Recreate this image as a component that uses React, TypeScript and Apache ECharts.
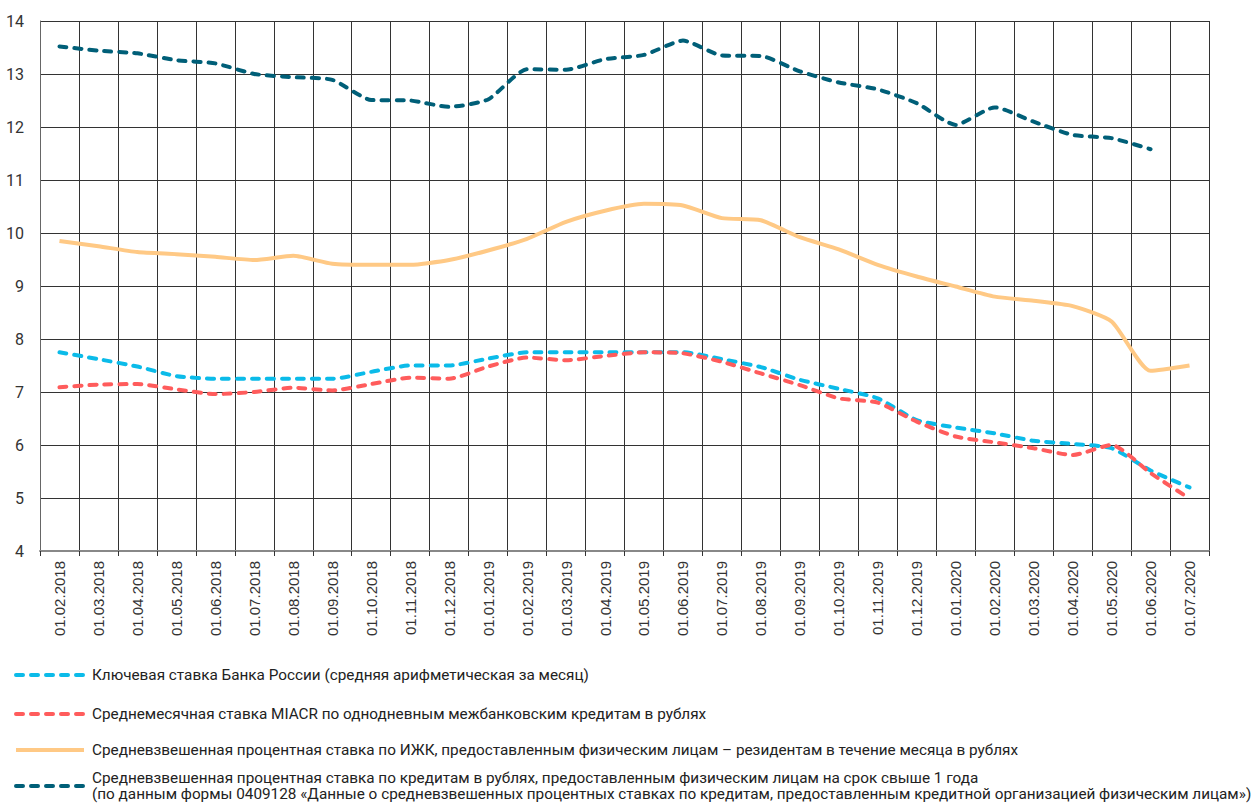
import React, { useEffect, useRef } from "react";
import * as echarts from "echarts";

const categories = [
  "01.02.2018", "01.03.2018", "01.04.2018", "01.05.2018", "01.06.2018", "01.07.2018",
  "01.08.2018", "01.09.2018", "01.10.2018", "01.11.2018", "01.12.2018", "01.01.2019",
  "01.02.2019", "01.03.2019", "01.04.2019", "01.05.2019", "01.06.2019", "01.07.2019",
  "01.08.2019", "01.09.2019", "01.10.2019", "01.11.2019", "01.12.2019", "01.01.2020",
  "01.02.2020", "01.03.2020", "01.04.2020", "01.05.2020", "01.06.2020", "01.07.2020",
];

const keyRate = [
  7.75, 7.62, 7.48, 7.3, 7.25, 7.25, 7.25, 7.25, 7.38, 7.5, 7.5, 7.63,
  7.75, 7.75, 7.75, 7.75, 7.75, 7.62, 7.47, 7.23, 7.06, 6.88, 6.47, 6.33,
  6.22, 6.08, 6.02, 5.94, 5.52, 5.2,
];

const miacr = [
  7.09, 7.14, 7.15, 7.05, 6.96, 7.0, 7.08, 7.03, 7.15, 7.27, 7.25, 7.48,
  7.65, 7.6, 7.68, 7.75, 7.73, 7.57, 7.35, 7.13, 6.88, 6.8, 6.44, 6.16,
  6.05, 5.94, 5.81, 6.0, 5.47, 4.99,
];

const mortgage = [
  9.85, 9.75, 9.64, 9.6, 9.55, 9.49, 9.57, 9.42, 9.4, 9.4, 9.49, 9.67,
  9.89, 10.21, 10.42, 10.55, 10.52, 10.28, 10.24, 9.92, 9.69, 9.4, 9.18, 8.99,
  8.8, 8.72, 8.62, 8.33, 7.4, 7.5,
];

const longLoans = [
  13.52, 13.44, 13.39, 13.26, 13.2, 13.0, 12.94, 12.89, 12.51, 12.5, 12.38, 12.52,
  13.09, 13.08, 13.28, 13.36, 13.63, 13.35, 13.34, 13.05, 12.84, 12.71, 12.45, 12.04,
  12.37, 12.1, 11.85, 11.79, 11.58, null,
];

const seriesNames = [
  "Ключевая ставка Банка России (средняя арифметическая за месяц)",
  "Среднемесячная ставка MIACR по однодневным межбанковским кредитам в рублях",
  "Средневзвешенная процентная ставка по ИЖК, предоставленным физическим лицам – резидентам в течение месяца в рублях",
  "Средневзвешенная процентная ставка по кредитам в рублях, предоставленным физическим лицам на срок свыше 1 года",
];
const lastLegendNote =
  "(по данным формы 0409128 «Данные о средневзвешенных процентных ставках по кредитам, предоставленным кредитной организацией физическим лицам»)";

const colors = ["#0BBBE9", "#FF5C5C", "#FFC985", "#005F78"];
const dashed = [true, true, false, true];
const legendLineY = [675, 714, 750, 786];
const legendTextY = [675, 714, 750, 778];

export default function App() {
  const ref = useRef<HTMLDivElement>(null);
  useEffect(() => {
    if (!ref.current) return;
    const chart = echarts.init(ref.current, null, { renderer: "svg" });
    const dataSets = [keyRate, miacr, mortgage, longLoans];
    const font = "Roboto, 'Open Sans', sans-serif";
    const textStyle = (t: string) => ({
      text: t,
      fill: "#222",
      fontSize: 15.3,
      lineHeight: 15,
      fontFamily: font,
      verticalAlign: "middle",
    });
    const graphic: any[] = [];
    seriesNames.forEach((name, i) => {
      graphic.push({
        type: "line",
        shape: { x1: 16, y1: legendLineY[i], x2: 84, y2: legendLineY[i] },
        style: {
          stroke: colors[i],
          lineWidth: 4,
          lineDash: dashed[i] ? [7, 8] : null,
          lineCap: dashed[i] ? "round" : "butt",
        },
      });
      graphic.push({ type: "text", x: 92, y: legendTextY[i], style: textStyle(name) });
    });
    graphic.push({ type: "text", x: 92, y: 794, style: textStyle(lastLegendNote) });
    chart.setOption({
      animation: false,
      grid: { left: 40, right: 43, top: 21, bottom: 256, containLabel: false },
      xAxis: {
        type: "category",
        data: categories,
        boundaryGap: true,
        axisLine: { show: true, lineStyle: { color: "#888", width: 2 } },
        axisTick: { show: true, length: 5, lineStyle: { color: "#333" } },
        splitLine: { show: true, interval: 0, lineStyle: { color: "#333", width: 1 } },
        axisLabel: {
          interval: 0,
          rotate: 90,
          margin: 10,
          color: "#333",
          fontSize: 15,
          fontFamily: "'Liberation Sans', Arial, sans-serif",
        },
      },
      yAxis: {
        type: "value",
        min: 4,
        max: 14,
        interval: 1,
        axisLine: { show: true, lineStyle: { color: "#666", width: 1 } },
        axisTick: { show: false },
        splitLine: { show: true, lineStyle: { color: "#333", width: 1 } },
        axisLabel: {
          margin: 16,
          color: "#333",
          fontSize: 16,
          fontFamily: font,
        },
      },
      series: dataSets.map((d, i) => ({
        type: "line",
        name: seriesNames[i],
        data: d,
        smooth: 0.2,
        symbol: "none",
        connectNulls: false,
        lineStyle: {
          color: colors[i],
          width: 4,
          type: dashed[i] ? [7, 8] : "solid",
          cap: dashed[i] ? "round" : "butt",
          join: "round",
        },
        z: i === 2 ? 3 : 4,
      })),
      graphic,
    });
    return () => chart.dispose();
  }, []);
  return (
    <div
      ref={ref}
      style={{ position: "absolute", left: 0, top: 0, width: 1252, height: 807, background: "#fff" }}
    />
  );
}
